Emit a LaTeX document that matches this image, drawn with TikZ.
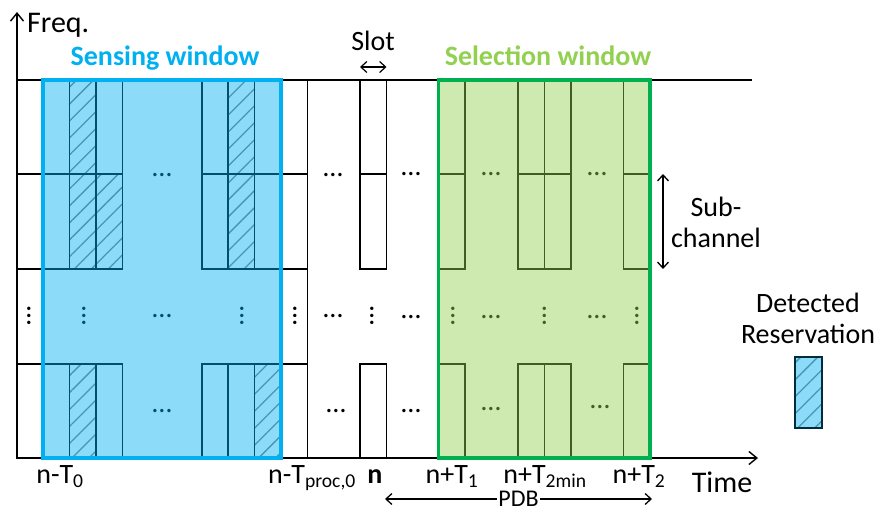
\documentclass[tikz,border=0pt]{standalone}
\usepackage{fontspec}
\setmainfont{Carlito}
\usetikzlibrary{arrows.meta,positioning,patterns.meta}

\definecolor{senseblue}{RGB}{0,176,240}
\definecolor{selgreen}{RGB}{146,208,80}
\definecolor{selframe}{RGB}{0,176,80}

\begin{document}
\begin{tikzpicture}[x=1pt,y=-1pt,
  cell/.style={draw,line width=1.4pt},
  hcell/.style={cell,pattern={Lines[angle=45,distance=12pt,line width=1.3pt]},pattern color=black!50},
  sensewin/.style={draw=senseblue,line width=3.5pt,fill=senseblue,fill opacity=0.45},
  selwin/.style={draw=selframe,line width=3.5pt,fill=selgreen,fill opacity=0.45},
  arr/.style={-{Straight Barb[length=8pt,width=13pt]},line width=1.4pt},
  darr/.style={{Straight Barb[length=6pt,width=11pt]}-{Straight Barb[length=6pt,width=11pt]},line width=1.3pt},
  lab/.style={font=\fontsize{28}{31}\selectfont,inner sep=0pt},
  hdots/.style={font=\fontsize{28}{28}\selectfont,inner sep=0pt},
  vdots/.style={hdots,rotate=90}]
\useasboundingbox (0,0) rectangle (877,513);

% axes and the upper edge of the grid
\coordinate (origin) at (17,458);
\coordinate (freqtip) at (17,12);
\coordinate (timetip) at (758,458);
\coordinate (topl) at (17,80);
\coordinate (topr) at (752,80);
\draw[line width=1.4pt] (topl) -- (topr);
\draw[line width=1.4pt] (307.5,80) -- (307.5,458);

% slots: two sub-channels on top, one at the bottom
\foreach \x in {17,43,69.5,96,202,228,254.5,281,360,438.5,518,544.5,623.5}{
  \draw[cell] (\x,80) rectangle ++(26.5,94);
  \draw[cell] (\x,174) rectangle ++(26.5,95);
  \draw[cell] (\x,364) rectangle ++(26.5,94);
}
% detected reservations
\foreach \x/\y/\h in {69.5/80/94,69.5/174/95,96/174/95,69.5/364/94,228/80/94,228/174/95,254.5/364/94}
  \draw[hcell] (\x,\y) rectangle ++(26.5,\h);

% skipped slots and sub-channels
\foreach \x/\y [count=\i] in {162/175,162/316,162/411,333/175,333/316,336/411,
    411/174,411/317,411/411,491/174,491/317,491/409,597/174,597/317,600/407}
  \node[hdots] (hd\i) at (\x,\y) {…};
\foreach \x [count=\i] in {29,84,242,295,372,453,544.5,637}
  \node[vdots] (vd\i) at (\x,316) {…};

\draw[arr] (origin) -- (freqtip);
\draw[arr] (origin) -- (timetip);

% windows
\draw[sensewin] (43,80) rectangle (281,458);
\draw[selwin] (438.5,80) rectangle (650,458);

\node[lab,anchor=base west,font=\fontsize{30}{32}\selectfont] (freq) at (27,33) {Freq.};
\node[lab,anchor=base,font=\fontsize{28}{31}\selectfont\bfseries,text=senseblue] (sensetitle) at (165,66) {Sensing window};
\node[lab,anchor=base,font=\fontsize{28}{31}\selectfont\bfseries,text=selgreen] (seltitle) at (548,66) {Selection window};

\node[lab,anchor=base] (slot) at (373,51) {Slot};
\coordinate (slotl) at (360,67);
\coordinate (slotr) at (386.5,67);
\draw[darr,line width=1.2pt] (slotl) -- (slotr);

% time stamps under the axis
\node[lab,anchor=base] (t0) at (60,483) {n-T\textsubscript{0}};
\node[lab,anchor=base] (tproc) at (312,483) {n-T\textsubscript{proc,0}};
\node[lab,anchor=base] (tn) at (375,483) {\textbf{n}};
\node[lab,anchor=base] (t1) at (452,483) {n+T\textsubscript{1}};
\node[lab,anchor=base] (t2min) at (545,483) {n+T\textsubscript{2min}};
\node[lab,anchor=base] (t2) at (639,483) {n+T\textsubscript{2}};
\node[lab,anchor=base,font=\fontsize{30}{32}\selectfont] (time) at (722,492) {Time};

\coordinate (pdbl) at (385,499);
\coordinate (pdbr) at (652,499);
\draw[darr] (pdbl) -- node[lab,font=\fontsize{24}{26}\selectfont,fill=white,inner xsep=1pt] (pdb) {PDB} (pdbr);

% sub-channel height
\coordinate (subtop) at (663,174);
\coordinate (subbot) at (663,269);
\draw[darr] (subtop) -- (subbot);
\node[lab,align=center] (subch) at (716,222) {Sub-\\channel};

% legend
\node[lab,align=center] (legtext) at (808,318) {Detected\\Reservation};
\draw[pattern={Lines[angle=45,distance=12pt,line width=1.3pt]},pattern color=black!50] (795,357) rectangle (822,428);
\draw[fill=senseblue,fill opacity=0.45,draw=black!75!senseblue,line width=1.4pt] (795,357) rectangle (822,428);
\end{tikzpicture}
\end{document}
